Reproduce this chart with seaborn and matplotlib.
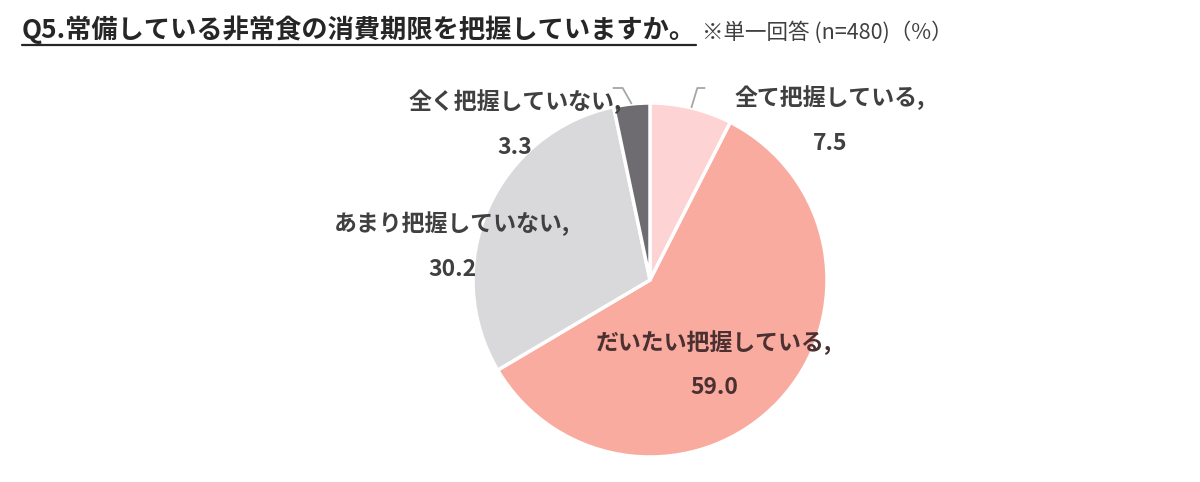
import numpy as np
import matplotlib
matplotlib.use("Agg")
import matplotlib.pyplot as plt
import seaborn as sns
from matplotlib.lines import Line2D

sns.set_theme(style="white")
plt.rcParams['font.family'] = ['Noto Sans CJK JP', 'DejaVu Sans']

categories = ['全て把握している', 'だいたい把握している', 'あまり把握していない', '全く把握していない']
values = [7.5, 59.0, 30.2, 3.3]
colors = ['#FDD3D3', '#F9AB9F', '#D9D8DB', '#6E6C71']
title = 'Q5.常備している非常食の消費期限を把握していますか。'
note = '※単一回答 (n=480)（%）'

W, H = 1200, 482
fig = plt.figure(figsize=(12, 4.82), dpi=100)
ax = fig.add_axes([0, 0, 1, 1])
ax.set_xlim(0, W)
ax.set_ylim(0, H)
ax.axis('off')

cx, cy, r = 650, H - 280, 177
wedges, _ = ax.pie(values, colors=colors, startangle=90, counterclock=False,
                   radius=r, center=(cx, cy),
                   wedgeprops=dict(edgecolor='white', linewidth=2.5))
ax.set_xlim(0, W)
ax.set_ylim(0, H)
ax.set_aspect('equal')

# label positions (pixel centres of the category line, value line below)
label_pos = [(830, H - 98), (714, H - 343), (452, H - 224), (515, H - 102)]
text_cols = ['#404040', '#4A3030', '#404040', '#404040']
for cat, v, (lx, ly), tc in zip(categories, values, label_pos, text_cols):
    ax.text(lx, ly, cat + ',', ha='center', va='center', fontsize=16.5,
            fontweight='bold', color=tc)
    ax.text(lx, ly - 45, f'{v:.1f}', ha='center', va='center', fontsize=16.5,
            fontweight='bold', color=tc)

# leader lines for the two small slices
for i, (dx_end, sign) in [(0, (8, 1)), (3, (-10, -1))]:
    w = wedges[i]
    ang = np.deg2rad((w.theta1 + w.theta2) / 2)
    x0, y0 = cx + r * np.cos(ang), cy + r * np.sin(ang)
    y1 = H - 88
    x1 = x0 + 6 * sign if i == 0 else x0 - 9
    ax.plot([x0, x1, x1 + dx_end], [y0, y1, y1], color='#A6A6A6', lw=1.3,
            solid_capstyle='butt')

# title with underline
t = fig.text(22 / W, 1 - 30 / H, title, fontsize=18.9, fontweight='bold',
             color='#262626', ha='left', va='center')
fig.canvas.draw()
bb = t.get_window_extent()
fig.add_artist(Line2D([bb.x0 / W, bb.x1 / W], [(bb.y0 - 1) / H, (bb.y0 - 1) / H],
                      color='#262626', lw=1.6, transform=fig.transFigure))
fig.text((bb.x1 + 6) / W, 1 - 32 / H, note, fontsize=15.5, color='#404040',
         ha='left', va='center')

fig.savefig('out.png', dpi=100, facecolor='white')
